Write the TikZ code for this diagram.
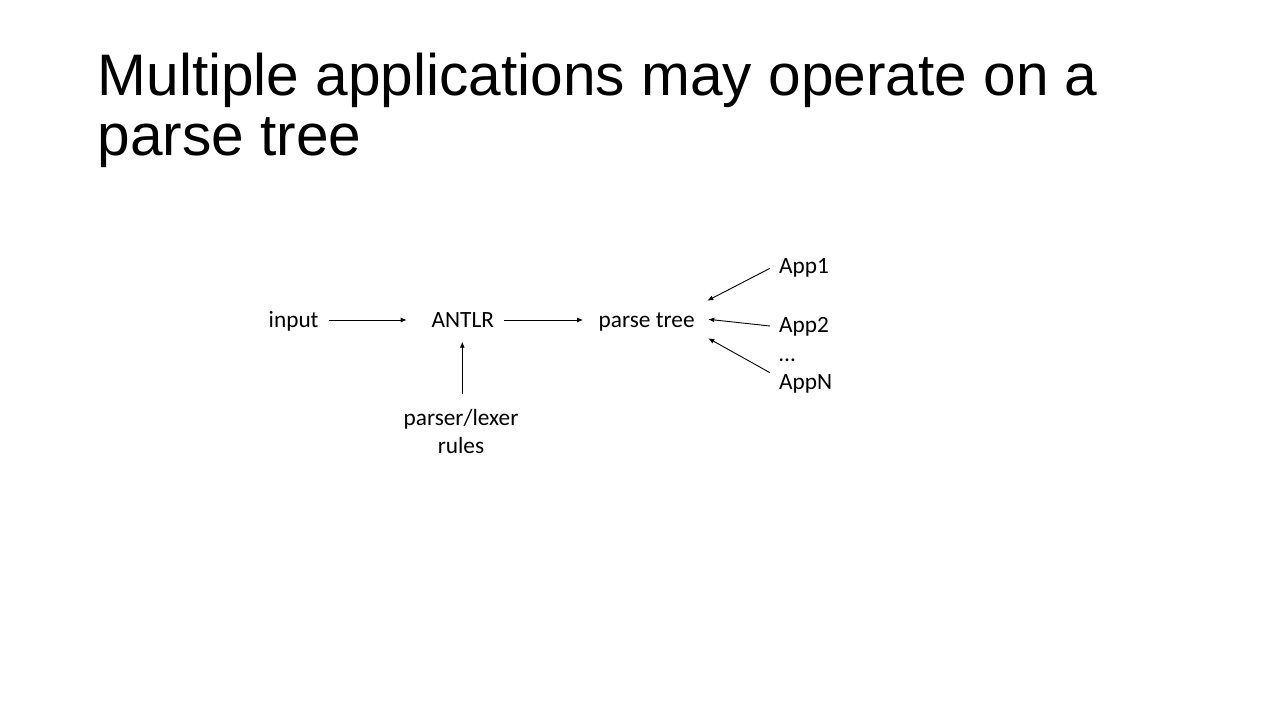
\documentclass[tikz,border=0pt]{standalone}
\usepackage{fontspec}
\setmainfont{Carlito}
\newfontfamily\titlefont{Liberation Sans}
\usetikzlibrary{arrows.meta}
\begin{document}
\begin{tikzpicture}[x=1pt,y=-1pt,
  lbl/.style={inner sep=0pt,anchor=base west,font=\fontsize{23.3}{28}\selectfont},
  arr/.style={line width=0.9pt,-{Latex[length=6pt,width=5pt]}}]
\useasboundingbox (0,0) rectangle (1280,720);
\node[inner sep=0pt,anchor=base west,align=left,font=\titlefont\fontsize{58.6}{59.5}\selectfont] (title) at (97.5,155) {Multiple applications may operate on a\\parse tree};
\node[lbl] (in) at (268.5,327.3) {input};
\node[lbl] (ant) at (431.5,327.3) {ANTLR};
\node[lbl] (pt) at (598.5,327.3) {parse tree};
\node[lbl,anchor=base,align=center] (pl) at (461,453) {parser/lexer\\rules};
\node[lbl] (a1) at (779,273.3) {App1};
\node[lbl] (a2) at (779,332.7) {App2};
\node[lbl] (dots) at (779,361) {…};
\node[lbl] (an) at (779,389.3) {AppN};
\coordinate (t1) at (707.3,300.7);
\coordinate (t2) at (708.3,319.3);
\coordinate (t3) at (708.3,338.3);
\coordinate (s1) at (770,268.3);
\coordinate (s2) at (770,326);
\coordinate (s3) at (770,372.7);
\coordinate (vb) at (462.3,394);
\coordinate (vt) at (462.3,341.7);
\draw[arr] (in.east |- 0,320) ++(10,0) -- (406.7,320);
\draw[arr] (504,320) -- (583,320);
\draw[arr] (vb) -- (vt);
\draw[arr] (s1) -- (t1);
\draw[arr] (s2) -- (t2);
\draw[arr] (s3) -- (t3);
\end{tikzpicture}
\end{document}
